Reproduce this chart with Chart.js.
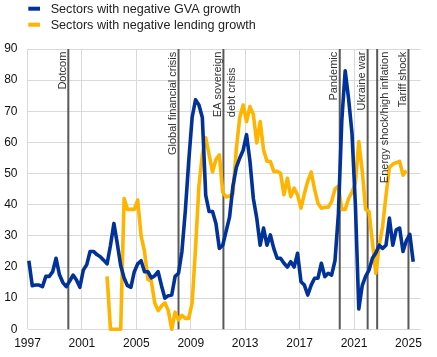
<!DOCTYPE html>
<html><head><meta charset="utf-8">
<script src="https://cdn.jsdelivr.net/npm/chart.js@4.4.1/dist/chart.umd.min.js"></script>
<style>html,body{margin:0;padding:0;background:#fff;}canvas{display:block;}</style>
</head><body>
<canvas id="c" width="437" height="357"></canvas>
<script>
// ---- data ----
const seriesLabels = ['Sectors with negative GVA growth', 'Sectors with negative lending growth'];
const gvaStart = '1997Q1';
const gvaValues = [
  22, 14, 14.2, 14.2,   13.7, 17, 17, 18.5,   22.8, 17.5, 15, 13.7,   15.5, 17.4, 15.8, 13.5,
  19, 20.7, 25, 25,     24, 23.3, 22.2, 21,   27, 34, 27.5, 20.5,     16.5, 14, 13.5, 18.5,
  21, 22, 18.5, 18.5,   16.5, 17.2, 18.5, 14, 10, 10.8, 11, 17,       18, 25, 38, 54,
  68, 73.7, 72, 68,     43, 37.8, 37.8, 34,   26, 27, 31.5, 36,       46, 52, 55, 57.5,
  62.5, 54, 42, 35.7,   27, 32.5, 27, 30.3,   26, 22.8, 22.8, 21.2,   20, 21.7, 20, 24.4,
  15.3, 14.2, 11, 14.2, 16.4, 16.4, 21.2, 16.9, 18, 17.4, 22, 37,     67, 83, 74, 63,
  40, 6.5, 14, 17,      19, 22.8, 24.5, 27,   26, 27, 35.7, 27,       31.9, 32.5, 25, 28.5,
  30.5, 21.7
];
const lendingStart = '2002Q4';
const lendingValues = [
  17,
  0, 0, 0, 0,           42, 38.5, 38.5, 38.5, 41.5, 30, 25, 16,     15.5, 8.5, 6, 7.5,
  8.5, 6, 0, 5.5,       3, 4.5, 3.5, 3.5,     8.5, 26, 46, 56,       61.5, 56, 50.5, 54.5,
  56, 44, 42.5, 42.8,   43.5, 58, 68, 72,     66.7, 71.5, 69, 59.8,  66.7, 57.6, 54, 53.9,
  50.7, 50.7, 50.1, 43.2, 48.5, 42.6, 45.3, 43.2, 38.9, 43.5, 47.6, 50.5, 45, 40.5, 38.9, 39.2,
  39.2, 41, 45, 46,     38.5, 38.5, 42, 44,   47, 60.3, 51, 38.5,    37.8, 28, 18, 27,
  33, 43, 52, 53,       53.5, 53.9, 49.5, 51
];
const tickYears = [1997, 2001, 2005, 2009, 2013, 2017, 2021, 2025];
const yTicks = [0, 10, 20, 30, 40, 50, 60, 70, 80, 90];
const eventYears = [2000.0, 2008.1, 2011.4, 2019.95, 2022.0, 2022.7, 2025.0];
const eventLabels = ['Dotcom', 'Global financial crisis', ['EA sovereign', 'debt crisis'], 'Pandemic', 'Ukraine war', 'Energy shock/high inflation', 'Tariff shock'];
const eventLabelSide = ['left', 'left', 'left', 'left', 'left', 'right', 'left'];

// ---- helpers ----
function quarterPos(label) { // position of a quarter on a year axis (middle of first month of quarter)
  const y = +label.slice(0, 4), q = +label.slice(5);
  return y + (q - 1) / 4 + 0.1;
}
function nextQuarter(label) {
  let y = +label.slice(0, 4), q = +label.slice(5);
  q++; if (q > 4) { q = 1; y++; }
  return y + 'Q' + q;
}
function toPoints(start, values) {
  const pts = []; let lab = start;
  values.forEach(v => { pts.push({x: quarterPos(lab), y: v}); lab = nextQuarter(lab); });
  return pts;
}

const FONT = '"Liberation Sans", Arial, Helvetica, sans-serif';
const BLUE = '#003299', ORANGE = '#FFB400';

const eventPlugin = {
  id: 'events',
  beforeDatasetsDraw(chart) {
    const {ctx, chartArea: a, scales: {x}} = chart;
    ctx.save();
    ctx.strokeStyle = '#595959'; ctx.lineWidth = 2;
    eventYears.forEach(yr => {
      const px = x.getPixelForValue(yr);
      ctx.beginPath(); ctx.moveTo(px, a.top); ctx.lineTo(px, a.bottom); ctx.stroke();
    });
    ctx.restore();
  },
  afterDatasetsDraw(chart) {
    const {ctx, chartArea: a, scales: {x}} = chart;
    ctx.save();
    ctx.font = '11px ' + FONT;
    ctx.fillStyle = '#333';
    ctx.textBaseline = 'alphabetic';
    ctx.textAlign = 'left';
    eventYears.forEach((yr, i) => {
      const px = x.getPixelForValue(yr);
      const lines = Array.isArray(eventLabels[i]) ? eventLabels[i] : [eventLabels[i]];
      const maxW = Math.max(...lines.map(l => ctx.measureText(l).width));
      const base = eventLabelSide[i] === 'right' ? 11 : -2.5;
      lines.forEach((l, k) => {
        ctx.save();
        ctx.translate(px + base + k * 13.6, a.top + 2.7);
        ctx.rotate(-Math.PI / 2);
        ctx.fillText(l, -maxW, 0);
        ctx.restore();
      });
    });
    ctx.restore();
  }
};

const legendPlugin = {
  id: 'legendRows',
  afterDraw(chart) {
    const ctx = chart.ctx;
    ctx.save();
    ctx.font = '12.6px ' + FONT;
    ctx.textBaseline = 'middle'; ctx.textAlign = 'left';
    const rows = [[BLUE, 8.7], [ORANGE, 24.7]];
    chart.data.datasets.forEach((ds, i) => {
      const [col, cy] = rows[i];
      ctx.fillStyle = col;
      ctx.fillRect(28.3, cy - 2, 11.7, 4);
      ctx.fillStyle = '#222';
      ctx.fillText(ds.label, 50.7, cy + 0.6);
    });
    ctx.restore();
  }
};

new Chart(document.getElementById('c').getContext('2d'), {
  type: 'line',
  data: {
    datasets: [
      {label: seriesLabels[0], data: toPoints(gvaStart, gvaValues), borderColor: BLUE, backgroundColor: BLUE,
       borderWidth: 3.6, pointRadius: 0, tension: 0, clip: false, borderJoinStyle: 'round', fill: false},
      {label: seriesLabels[1], data: toPoints(lendingStart, lendingValues), borderColor: ORANGE, backgroundColor: ORANGE,
       borderWidth: 3.6, pointRadius: 0, tension: 0, clip: false, borderJoinStyle: 'round', fill: false}
    ]
  },
  options: {
    responsive: false, animation: false, devicePixelRatio: 1,
    layout: {padding: {top: 49, right: 16.3, left: 0, bottom: 0}},
    plugins: {legend: {display: false}, tooltip: {enabled: false}},
    scales: {
      x: {
        type: 'linear', min: 1997, max: 2025.9,
        afterBuildTicks: ax => { ax.ticks = tickYears.map(v => ({value: v})); },
        afterFit: s => { s.height = 27.7; },
        ticks: {autoSkip: false, maxRotation: 0, padding: 7, color: '#111', font: {family: FONT, size: 12},
                callback: v => String(v)},
        grid: {color: '#d9d9d9', lineWidth: 1, drawTicks: false},
        border: {display: false}
      },
      y: {
        min: 0, max: 90,
        afterBuildTicks: ax => { ax.ticks = yTicks.map(v => ({value: v})); },
        afterFit: s => { s.width = 27.5; },
        ticks: {padding: 10, color: '#111', font: {family: FONT, size: 12}, callback: v => String(v)},
        grid: {color: '#d9d9d9', lineWidth: 1, drawTicks: false},
        border: {display: false}
      }
    }
  },
  plugins: [eventPlugin, legendPlugin]
});
</script>
</body></html>
